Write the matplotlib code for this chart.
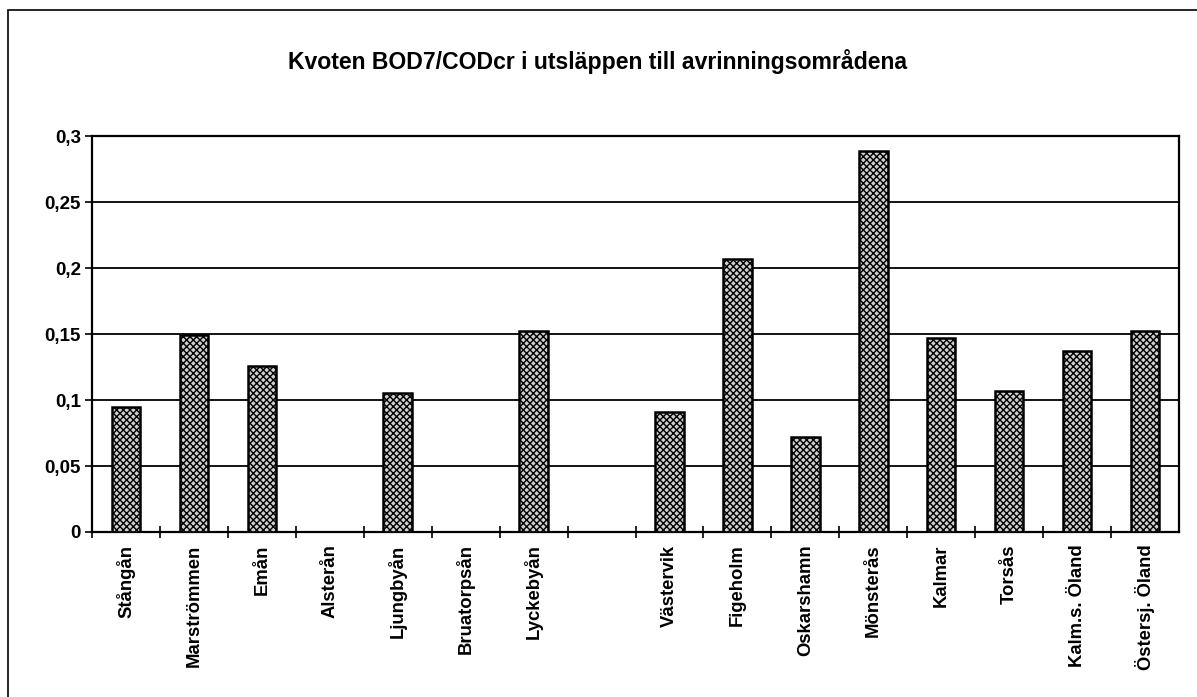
import numpy as np
import matplotlib
matplotlib.use("Agg")
import matplotlib.pyplot as plt
from matplotlib.patches import Rectangle
from matplotlib.ticker import FixedLocator, FuncFormatter

plt.rcParams['font.family'] = ['Liberation Sans', 'DejaVu Sans']
plt.rcParams['hatch.linewidth'] = 1.0

title = "Kvoten BOD7/CODcr i utsläppen till avrinningsområdena"

categories = ['Stångån', 'Marströmmen', 'Emån', 'Alsterån', 'Ljungbyån',
              'Bruatorpsån', 'Lyckebyån', '', 'Västervik', 'Figeholm',
              'Oskarshamn', 'Mönsterås', 'Kalmar', 'Torsås',
              'Kalm.s. Öland', 'Östersj. Öland']
ratio = [0.095, 0.149, 0.1255, 0.0, 0.105, 0.0, 0.152, np.nan,
         0.091, 0.207, 0.072, 0.289, 0.147, 0.107, 0.137, 0.152]
yticks = [0, 0.05, 0.1, 0.15, 0.2, 0.25, 0.3]

fig = plt.figure(figsize=(11.97, 6.97), dpi=100)

# outer frame (cut off at right and bottom like the scan)
fig.patches.append(Rectangle((8 / 1197, -0.05), 1.2, 1 - 10 / 697 + 0.05,
                             transform=fig.transFigure, fill=False,
                             edgecolor='black', linewidth=1.2))

ax = fig.add_axes([92 / 1197, 1 - 532 / 697, 1087 / 1197, 396 / 697])
x = np.arange(len(categories))
ax.bar(x, ratio, width=0.42, color='#cfcfcf', edgecolor='black',
       linewidth=1.8, hatch='xxxxx', zorder=3)

ax.set_xlim(-0.5, len(categories) - 0.5)
ax.set_ylim(0, 0.3)
ax.set_yticks(yticks)
ax.yaxis.set_major_formatter(FuncFormatter(lambda v, p: ('%g' % v).replace('.', ',')))
ax.yaxis.grid(True, color='black', linewidth=1.3, zorder=0)
ax.tick_params(axis='y', direction='out', length=5, width=1.2,
               labelsize=13.5, pad=3)
for lab in ax.get_yticklabels():
    lab.set_fontweight('bold')

ax.set_xticks(x)
ax.set_xticklabels(categories, rotation=90, fontsize=13.3, fontweight='bold',
                   va='top')
ax.tick_params(axis='x', which='major', length=0, pad=9)
ax.xaxis.set_minor_locator(FixedLocator(np.arange(len(categories)) - 0.5))
ax.tick_params(axis='x', which='minor', direction='inout', length=8, width=1.2)

for s in ax.spines.values():
    s.set_linewidth(1.6)

fig.text(598 / 1197, 1 - 62 / 697, title, ha='center', va='center',
         fontsize=16.6, fontweight='bold')

fig.savefig('out.png', dpi=100)
